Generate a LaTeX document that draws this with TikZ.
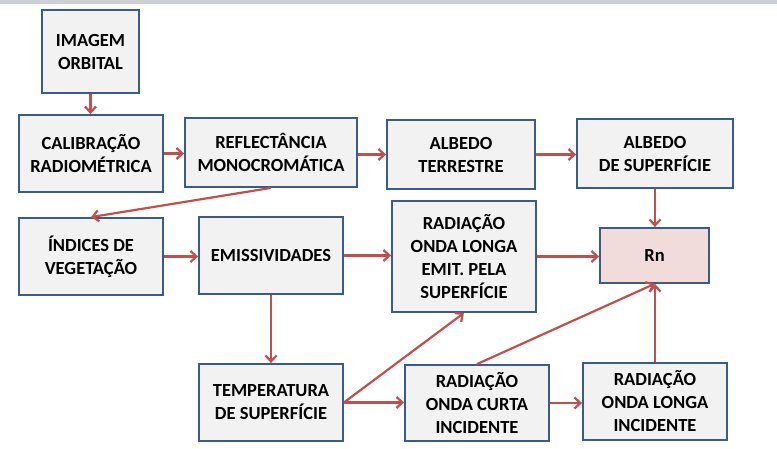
\documentclass[tikz,border=0pt]{standalone}
\usepackage{fontspec}
\setmainfont{Carlito}
\usetikzlibrary{arrows.meta}
\definecolor{boxfill}{HTML}{F2F2F2}
\definecolor{boxline}{HTML}{385D8A}
\definecolor{arr}{HTML}{C0504D}
\definecolor{rnfill}{HTML}{F2DCDB}
\definecolor{topband}{HTML}{CCD0D6}
\begin{document}
\begin{tikzpicture}[x=1pt,y=-1pt,
  bx/.style={draw=boxline, fill=boxfill, line width=1.8pt, inner sep=0pt, align=center,
    font=\fontsize{18.5}{23}\selectfont\bfseries},
  arrw/.style={draw=arr, line width=2.2pt, -{Straight Barb[length=6pt,width=11pt,line width=2.2pt]}}]
\useasboundingbox (0,0) rectangle (777,448);
\fill[topband] (0,0) rectangle (777,3.5);
\node[bx, minimum width=97pt, minimum height=83pt] (img) at (90.5,51.5) {IMAGEM\\ORBITAL};
\node[bx, minimum width=144pt, minimum height=77pt] (cal) at (91,153.5) {CALIBRAÇÃO\\RADIOMÉTRICA};
\node[bx, minimum width=172pt, minimum height=69pt] (refl) at (271,152.5) {REFLECTÂNCIA\\MONOCROMÁTICA};
\node[bx, minimum width=148pt, minimum height=69pt] (albt) at (461,154.5) {ALBEDO\\TERRESTRE};
\node[bx, minimum width=156pt, minimum height=69pt] (albs) at (655,153.5) {ALBEDO\\DE SUPERFÍCIE};
\node[bx, minimum width=144pt, minimum height=77pt] (ind) at (91,256.5) {ÍNDICES DE\\VEGETAÇÃO};
\node[bx, minimum width=144pt, minimum height=77pt] (emi) at (271,255.5) {EMISSIVIDADES};
\node[bx, minimum width=144pt, minimum height=111pt] (rol) at (464,256.5) {RADIAÇÃO\\ONDA LONGA\\EMIT. PELA\\SUPERFÍCIE};
\node[bx, fill=rnfill, minimum width=109pt, minimum height=55pt] (rn) at (654.5,255.5) {Rn};
\node[bx, minimum width=144pt, minimum height=77pt] (tmp) at (271,402.5) {TEMPERATURA\\DE SUPERFÍCIE};
\node[bx, minimum width=144pt, minimum height=76pt] (roc) at (477,403) {RADIAÇÃO\\ONDA CURTA\\INCIDENTE};
\node[bx, minimum width=144pt, minimum height=77pt] (roli) at (655,401.5) {RADIAÇÃO\\ONDA LONGA\\INCIDENTE};
\draw[arrw] (img.south) -- (cal.north -| img.south);
\draw[arrw] (cal.east) -- (cal.east -| refl.west);
\draw[arrw] (refl.east |- albt.west) -- (albt.west);
\draw[arrw] (albt.east) -- (albt.east -| albs.west);
\draw[arrw] (refl.south) -- (ind.north);
\draw[arrw] (ind.east) -- (ind.east -| emi.west);
\draw[arrw] (emi.east) -- (emi.east -| rol.west);
\draw[arrw] (rol.east) -- (rol.east -| rn.west);
\draw[arrw] (albs.south) -- (albs.south |- rn.north);
\draw[arrw] (emi.south) -- (tmp.north);
\draw[arrw] (tmp.east) -- (rol.south);
\draw[arrw] (tmp.east) -- (tmp.east -| roc.west);
\draw[arrw] (roc.north) -- (rn.south);
\draw[arrw] (roc.east) -- (roc.east -| roli.west);
\draw[arrw] (roli.north) -- (roli.north |- rn.south);
\end{tikzpicture}
\end{document}
